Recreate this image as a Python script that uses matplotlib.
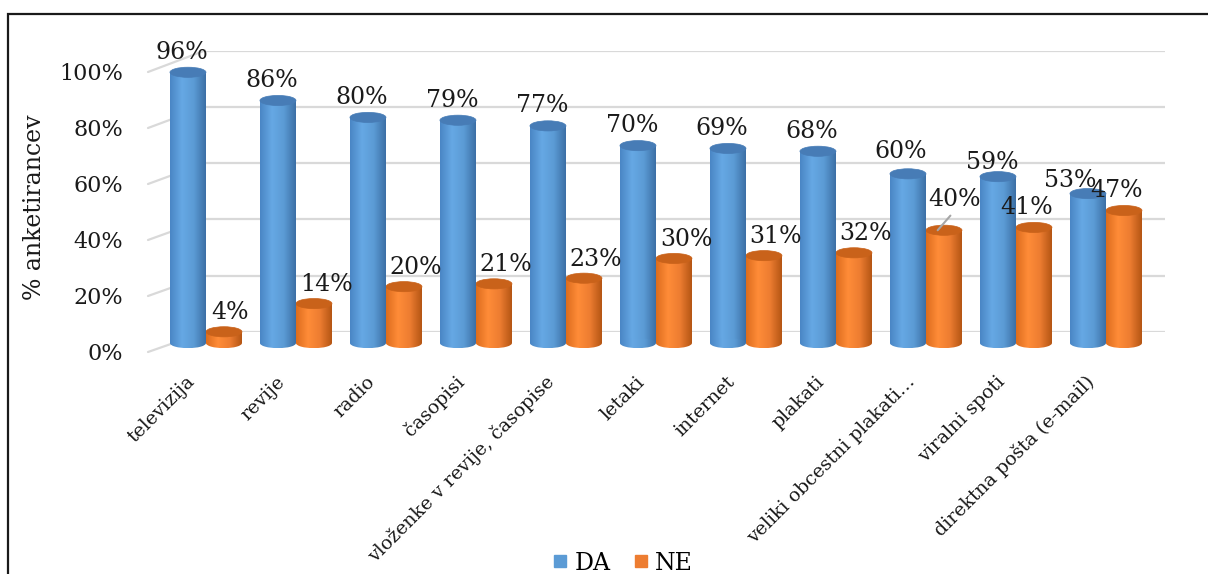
import numpy as np
import matplotlib
matplotlib.use('Agg')
import matplotlib.pyplot as plt
from matplotlib.patches import Ellipse, Rectangle, ConnectionPatch
from matplotlib.colors import LinearSegmentedColormap
from matplotlib.lines import Line2D
from matplotlib.transforms import ScaledTranslation

categories = ['televizija', 'revije', 'radio', 'časopisi', 'vloženke v revije, časopise',
              'letaki', 'internet', 'plakati', 'veliki obcestni plakati…', 'viralni spoti',
              'direktna pošta (e-mail)']
da = [96, 86, 80, 79, 77, 70, 69, 68, 60, 59, 53]
ne = [4, 14, 20, 21, 23, 30, 31, 32, 40, 41, 47]
yticks = [0, 20, 40, 60, 80, 100]

BLUE = '#5B9BD5'
ORANGE = '#ED7D31'
GRID = '#d9d9d9'
TXT = '#1a1a1a'

W, H = 1208, 574
plt.rcParams['font.family'] = ['DejaVu Serif']
fig = plt.figure(figsize=(W / 100, H / 100), dpi=100)


def fx(px):
    return px / W


def fy(px):
    return 1 - px / H


# back wall gridlines
back = fig.add_axes([fx(205), fy(332), fx(1165) - fx(205), (332 - 50.5) / H])
back.set_ylim(0, 100)
back.set_yticks(yticks)
back.grid(axis='y', color=GRID, lw=1.6)
back.tick_params(left=False, labelleft=False, bottom=False, labelbottom=False)
for s in back.spines.values():
    s.set_visible(False)
back.patch.set_visible(False)

# front edge: tick labels
front = fig.add_axes([fx(148), fy(352), 0.01, (352 - 72) / H])
front.set_ylim(0, 100)
front.set_yticks(yticks)
front.set_yticklabels([f'{v}%' for v in yticks], fontsize=16, color=TXT)
front.tick_params(axis='y', length=0, pad=18)
front.tick_params(axis='x', bottom=False, labelbottom=False)
for s in front.spines.values():
    s.set_visible(False)
front.patch.set_visible(False)

for v in yticks:
    con = ConnectionPatch(xyA=(0, v), coordsA=front.get_yaxis_transform(),
                          xyB=(0, v), coordsB=back.get_yaxis_transform(),
                          color=GRID, lw=1.6)
    fig.add_artist(con)

# bars
ax = fig.add_axes([fx(148), fy(360), fx(1165) - fx(148), (360 - 61) / H])
ax.set_zorder(3)
x = np.arange(len(categories))
w = 0.4
EH = 3.6  # ellipse height in data units

cmap_b = LinearSegmentedColormap.from_list('b', ['#4a86c5', '#66a8e4', '#5b9bd5', '#3d70a6'])
cmap_o = LinearSegmentedColormap.from_list('o', ['#dd6d1e', '#ff8c38', '#ed7d31', '#b55614'])

bars_ne = ax.bar(x + w / 2, ne, w, color='none', edgecolor='none')
bars_da = ax.bar(x - w / 2, da, w, color='none', edgecolor='none')

grad = np.linspace(0, 1, 64).reshape(1, -1)


def cylinder(rect, cmap, top_color, z):
    x0 = rect.get_x()
    rw = rect.get_width()
    h = rect.get_height()
    im = ax.imshow(grad, cmap=cmap, aspect='auto', extent=(x0, x0 + rw, 0, h),
                   zorder=z, interpolation='bilinear')
    im.set_clip_path(rect)
    base = Ellipse((x0 + rw / 2, 0), rw, EH, transform=ax.transData)
    im2 = ax.imshow(grad, cmap=cmap, aspect='auto', extent=(x0, x0 + rw, -EH / 2, EH / 2),
                    zorder=z, interpolation='bilinear')
    im2.set_clip_path(base)
    ax.add_patch(Ellipse((x0 + rw / 2, h), rw, EH, fc=top_color, ec=top_color,
                         lw=0.5, zorder=z + 0.1))


for r in bars_ne:
    cylinder(r, cmap_o, '#c9621a', 2)
for r in bars_da:
    cylinder(r, cmap_b, '#477cb6', 3)

# data labels (pixel nudges)
da_nudge = {8: (-7, 22), 9: (-6, 14), 10: (-18, 13)}
ne_nudge = {0: (6, 19), 9: (-7, 20), 10: (-7, 20)}
for i, (v, r) in enumerate(zip(da, bars_da)):
    dx, dy = da_nudge.get(i, (-6, 20))
    ax.annotate(f'{v}%', (r.get_x() + r.get_width() / 2, v), xytext=(dx, dy),
                textcoords='offset pixels', ha='center', va='center',
                fontsize=17, color=TXT, zorder=10)
for i, (v, r) in enumerate(zip(ne, bars_ne)):
    cx = r.get_x() + r.get_width() / 2
    if i == 8:
        ax.annotate(f'{v}%', (cx - 0.07, v), xytext=(17, 31), textcoords='offset pixels',
                    ha='center', va='center', fontsize=17, color=TXT, zorder=10,
                    arrowprops=dict(arrowstyle='-', color='#a6a6a6', lw=1.5,
                                    shrinkA=2, shrinkB=0, relpos=(0.5, 0)))
        continue
    dx, dy = ne_nudge.get(i, (12, 19))
    ax.annotate(f'{v}%', (cx, v), xytext=(dx, dy), textcoords='offset pixels',
                ha='center', va='center', fontsize=17, color=TXT, zorder=10)

# category labels
off = ScaledTranslation(-14 / 100, -36 / 100, fig.dpi_scale_trans)
for i, c in enumerate(categories):
    ax.text(i, 0, c, rotation=45, rotation_mode='anchor', ha='right', va='center',
            fontsize=13.6, color=TXT, transform=ax.transData + off)

ax.set_xlim(-0.644, 10.656)
ax.set_ylim(-6, 100)
ax.axis('off')

fig.text(fx(35), fy(207), '% anketirancev', rotation=90, ha='center', va='center',
         fontsize=17, color=TXT)

handles = [Line2D([], [], ls='none', marker='s', ms=8, mfc=c, mec=c) for c in (BLUE, ORANGE)]
fig.legend(handles, ['DA', 'NE'], loc='center', bbox_to_anchor=(fx(623), fy(563)), ncol=2,
           frameon=False, fontsize=17, handlelength=0.6, handletextpad=0.3,
           columnspacing=1.0, borderaxespad=0)

fig.add_artist(Rectangle((fx(8), -0.1), 1.2, fy(14) + 0.1, transform=fig.transFigure,
                         fill=False, ec=TXT, lw=1.6))

fig.savefig('out.png', dpi=100)
